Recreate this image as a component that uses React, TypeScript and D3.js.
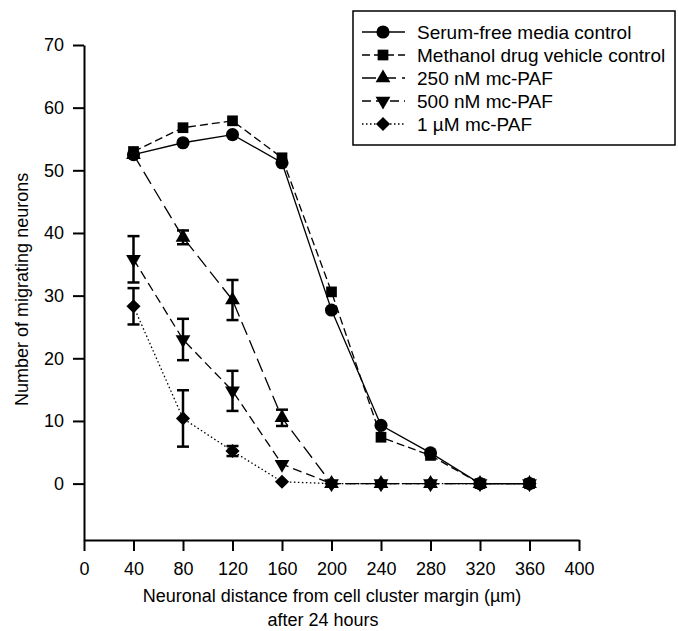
import { useEffect, useRef } from "react";
import * as d3 from "d3";

const distances = [40, 80, 120, 160, 200, 240, 280, 320, 360];

const serumFree = [52.5, 54.4, 55.7, 51.2, 27.7, 9.3, 4.9, 0, 0];
const methanol = [53, 56.8, 57.9, 52, 30.6, 7.4, 4.5, 0, 0];
const nm250 = [52.5, 39.3, 29.3, 10.5, 0, 0, 0, 0, 0];
const nm250Err = [0, 1.1, 3.2, 1.3, 0, 0, 0, 0, 0];
const nm500 = [35.8, 23.0, 14.8, 3.1, 0, 0, 0, 0, 0];
const nm500Err = [3.7, 3.3, 3.2, 0, 0, 0, 0, 0, 0];
const um1 = [28.3, 10.4, 5.2, 0.3, 0, 0, 0, 0, 0];
const um1Err = [2.9, 4.5, 0.8, 0, 0, 0, 0, 0, 0];

const xTicks = [0, 40, 80, 120, 160, 200, 240, 280, 320, 360, 400];
const yTicks = [0, 10, 20, 30, 40, 50, 60, 70];

const seriesNames = [
  "Serum-free media control",
  "Methanol drug vehicle control",
  "250 nM mc-PAF",
  "500 nM mc-PAF",
  "1 \u00b5M mc-PAF",
];

const FONT = "'Liberation Sans', Arial, sans-serif";

const App = () => {
  const svgRef = useRef<SVGSVGElement | null>(null);

  useEffect(() => {
    const svg = d3.select(svgRef.current);
    svg.selectAll("*").remove();

    const width = 678;
    const height = 631;
    const margin = { top: 45, right: 99, bottom: 91, left: 84 };

    const x = d3
      .scaleLinear()
      .domain([0, 400])
      .range([margin.left, width - margin.right]);

    const y = d3
      .scaleLinear()
      .domain([-9, 70])
      .range([height - margin.bottom, margin.top]);

    const series = [
      { name: seriesNames[0], values: serumFree, err: null, dash: null, symbol: "circle" },
      { name: seriesNames[1], values: methanol, err: null, dash: "8,4", symbol: "square" },
      { name: seriesNames[2], values: nm250, err: nm250Err, dash: "14,6", symbol: "up" },
      { name: seriesNames[3], values: nm500, err: nm500Err, dash: "9,5", symbol: "down" },
      { name: seriesNames[4], values: um1, err: um1Err, dash: "1.5,2.5", symbol: "diamond" },
    ];

    const symbolPath = (kind: string) => {
      switch (kind) {
        case "circle":
          return d3.symbol().type(d3.symbolCircle).size(135)();
        case "square":
          return d3.symbol().type(d3.symbolSquare).size(115)();
        case "up":
        case "down":
          return d3.symbol().type(d3.symbolTriangle).size(95)();
        default:
          return d3.symbol().type(d3.symbolSquare).size(100)();
      }
    };
    const symbolRotate = (kind: string) =>
      kind === "down" ? 180 : kind === "diamond" ? 45 : 0;

    // axes
    const xAxis = svg
      .append("g")
      .attr("transform", `translate(0,${y(-9)})`)
      .call(d3.axisBottom(x).tickValues(xTicks).tickSize(11).tickSizeOuter(0).tickPadding(11));
    xAxis.select(".domain").attr("stroke-width", 2);
    xAxis.selectAll(".tick line").attr("stroke-width", 2);
    xAxis
      .selectAll("text")
      .attr("font-family", FONT)
      .attr("font-size", 18)
      .attr("fill", "#000");

    const yAxis = svg
      .append("g")
      .attr("transform", `translate(${x(0)},0)`)
      .call(d3.axisLeft(y).tickValues(yTicks).tickSize(11).tickSizeOuter(0).tickPadding(9));
    yAxis.select(".domain").attr("stroke-width", 2);
    yAxis.selectAll(".tick line").attr("stroke-width", 2);
    yAxis
      .selectAll("text")
      .attr("font-family", FONT)
      .attr("font-size", 18)
      .attr("fill", "#000");

    // axis titles
    svg
      .append("text")
      .attr("transform", `translate(28,${y(31)}) rotate(-90)`)
      .attr("text-anchor", "middle")
      .attr("font-family", FONT)
      .attr("font-size", 18)
      .text("Number of migrating neurons");

    svg
      .append("text")
      .attr("x", 332)
      .attr("y", 602)
      .attr("text-anchor", "middle")
      .attr("font-family", FONT)
      .attr("font-size", 18)
      .text("Neuronal distance from cell cluster margin (\u00b5m)");
    svg
      .append("text")
      .attr("x", 323)
      .attr("y", 626)
      .attr("text-anchor", "middle")
      .attr("font-family", FONT)
      .attr("font-size", 18)
      .text("after 24 hours");

    const line = d3
      .line<number>()
      .x((d, i) => x(distances[i]))
      .y((d) => y(d));

    const plot = svg.append("g");

    series.forEach((s) => {
      plot
        .append("path")
        .datum(s.values)
        .attr("d", line)
        .attr("fill", "none")
        .attr("stroke", "#000")
        .attr("stroke-width", 1.3)
        .attr("stroke-dasharray", s.dash);
    });

    series.forEach((s) => {
      if (!s.err) return;
      const err = s.err;
      const g = plot.append("g").attr("stroke", "#000").attr("stroke-width", 2.5);
      s.values.forEach((v, i) => {
        if (!err[i]) return;
        const cx = x(distances[i]);
        const y0 = y(v - err[i]);
        const y1 = y(v + err[i]);
        g.append("line").attr("x1", cx).attr("x2", cx).attr("y1", y0).attr("y2", y1);
        g.append("line").attr("x1", cx - 6).attr("x2", cx + 6).attr("y1", y0).attr("y2", y0);
        g.append("line").attr("x1", cx - 6).attr("x2", cx + 6).attr("y1", y1).attr("y2", y1);
      });
    });

    series.forEach((s) => {
      plot
        .append("g")
        .selectAll("path")
        .data(s.values)
        .join("path")
        .attr("d", symbolPath(s.symbol))
        .attr(
          "transform",
          (d, i) => `translate(${x(distances[i])},${y(d)}) rotate(${symbolRotate(s.symbol)})`
        )
        .attr("fill", "#000");
    });

    // legend
    const legend = svg.append("g");
    legend
      .append("rect")
      .attr("x", 353)
      .attr("y", 11)
      .attr("width", 322)
      .attr("height", 134)
      .attr("fill", "#fff")
      .attr("stroke", "#000")
      .attr("stroke-width", 1.5);

    series.forEach((s, i) => {
      const ly = 32 + i * 23;
      legend
        .append("line")
        .attr("x1", 362)
        .attr("x2", 405)
        .attr("y1", ly)
        .attr("y2", ly)
        .attr("stroke", "#000")
        .attr("stroke-width", 1.3)
        .attr("stroke-dasharray", s.dash);
      legend
        .append("path")
        .attr("d", symbolPath(s.symbol))
        .attr("transform", `translate(383,${ly}) rotate(${symbolRotate(s.symbol)})`)
        .attr("fill", "#000");
      legend
        .append("text")
        .attr("x", 417)
        .attr("y", ly)
        .attr("dy", "0.35em")
        .attr("font-family", FONT)
        .attr("font-size", 19)
        .text(s.name);
    });
  }, []);

  return (
    <svg
      ref={svgRef}
      width={678}
      height={631}
      style={{ position: "absolute", left: 0, top: 0, background: "#fff" }}
    />
  );
};

export default App;
